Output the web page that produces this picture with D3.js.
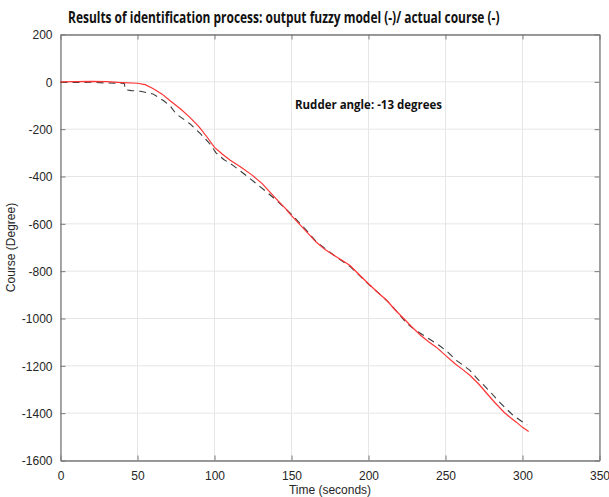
<!DOCTYPE html>
<html>
<head>
    <meta charset="utf-8">
    <script type="text/javascript" src="https://d3js.org/d3.v7.min.js"></script>
    <style>
        body { margin: 0; background: #fff; }
        svg text { font-family: "Liberation Sans", Arial, sans-serif; }
        .tick text { fill: #262626; font-size: 12px; }
        .title { font-family: "Open Sans", sans-serif !important; font-weight: bold; fill: #111; }
    </style>
    <title>Results of identification process</title>
</head>
<body>
    <svg width="609" height="497"></svg>
    <script>
        // fuzzy model output (red)
        var modelTime  = [0, 10, 20, 30, 40, 50, 55, 60, 66, 71, 78, 84, 90, 95, 100, 105, 110, 117, 124, 131, 136, 141, 146, 150, 155, 160, 166, 172, 178, 183, 188, 194, 200, 206, 212, 217, 223, 228, 234, 239, 244, 250, 256, 261, 266, 272, 277, 282, 288, 292, 296, 300, 304];
        var modelValue = [0, 1, 2, 1, -3, -6, -12, -28, -52, -79, -115, -150, -190, -232, -277, -305, -330, -360, -392, -430, -466, -501, -535, -565, -600, -635, -677, -710, -735, -755, -776, -815, -853, -890, -924, -962, -1001, -1035, -1072, -1098, -1121, -1156, -1190, -1215, -1241, -1280, -1318, -1355, -1396, -1418, -1438, -1460, -1477];

        // actual course (dashed)
        var actualTime  = [0, 10, 20, 30, 40, 41.5, 42, 46, 52, 60, 67, 71, 75, 84, 91, 97, 101, 106, 112, 117, 122, 128, 134, 141, 150, 160, 166, 178, 188, 200, 207, 214, 219, 225, 230, 236, 241, 246, 252, 257, 262, 266, 270, 275, 279, 283, 288, 294, 298, 303];
        var actualValue = [-2, -3, -2, -5, -6, -8, -33, -37, -40, -51, -80, -100, -135, -177, -220, -262, -300, -328, -353, -378, -403, -435, -466, -505, -560, -630, -675, -735, -780, -855, -895, -938, -975, -1022, -1047, -1072, -1093, -1114, -1145, -1177, -1200, -1220, -1250, -1283, -1310, -1339, -1372, -1410, -1428, -1450];

        var xTicks = [0, 50, 100, 150, 200, 250, 300, 350];
        var yTicks = [200, 0, -200, -400, -600, -800, -1000, -1200, -1400, -1600];

        var svg = d3.select("svg");
        var padLeft = 60.5, padRight = 599.5, padTop = 34.5, padBottom = 460.5;

        var x = d3.scaleLinear().domain([0, 350]).range([padLeft, padRight]);
        var y = d3.scaleLinear().domain([-1600, 200]).range([padBottom, padTop]);

        // grid
        var grid = svg.append("g").attr("stroke", "#e6e6e6").attr("stroke-width", 1);
        xTicks.forEach(function (t) {
            grid.append("line").attr("x1", x(t)).attr("x2", x(t)).attr("y1", padTop).attr("y2", padBottom);
        });
        yTicks.forEach(function (t) {
            grid.append("line").attr("x1", padLeft).attr("x2", padRight).attr("y1", y(t)).attr("y2", y(t));
        });

        var plain = function (d) { return String(d); };

        // axes, MATLAB-style with inner ticks and a box
        var xAxis = svg.append("g")
            .attr("transform", "translate(0," + padBottom + ")")
            .call(d3.axisBottom(x).tickValues(xTicks).tickFormat(plain).tickSizeInner(-5).tickSizeOuter(0).tickPadding(11));
        var xTop = svg.append("g")
            .attr("transform", "translate(0," + padTop + ")")
            .call(d3.axisTop(x).tickValues(xTicks).tickSizeInner(-5).tickSizeOuter(0).tickFormat(""));
        var yAxis = svg.append("g")
            .attr("transform", "translate(" + padLeft + ",0)")
            .call(d3.axisLeft(y).tickValues(yTicks).tickFormat(plain).tickSizeInner(-5).tickSizeOuter(0).tickPadding(8));
        var yRight = svg.append("g")
            .attr("transform", "translate(" + padRight + ",0)")
            .call(d3.axisRight(y).tickValues(yTicks).tickSizeInner(-5).tickSizeOuter(0).tickFormat(""));

        [xAxis, xTop, yAxis, yRight].forEach(function (a) {
            a.selectAll("path, line").attr("stroke", "#7a7a7a");
            a.select(".domain").attr("stroke-width", 1.3);
        });
        yAxis.selectAll(".tick text").attr("dy", "0.35em");

        var line = d3.line()
            .x(function (d) { return x(d[0]); })
            .y(function (d) { return y(d[1]); });

        svg.append("path")
            .datum(actualTime.map(function (t, i) { return [t, actualValue[i]]; }))
            .attr("fill", "none")
            .attr("stroke", "#3a3a3a")
            .attr("stroke-width", 1.1)
            .attr("stroke-dasharray", "7,5")
            .attr("d", line);

        svg.append("path")
            .datum(modelTime.map(function (t, i) { return [t, modelValue[i]]; }))
            .attr("fill", "none")
            .attr("stroke", "#ff3333")
            .attr("stroke-width", 1.2)
            .attr("d", line);

        // bold texts squeezed horizontally to the reference width (Calibri-like look)
        function boldText(str, x0, y0, size, width) {
            var t = svg.append("text")
                .attr("class", "title")
                .attr("font-size", size + "px")
                .text(str);
            var w = t.node().getComputedTextLength();
            var k = Math.min(1, width / w);
            t.attr("transform", "translate(" + x0 + "," + y0 + ") scale(" + k + ",1)");
        }
        boldText("Results of identification process: output fuzzy model (-)/ actual course (-)", 68, 23, 15.5, 432);
        boldText("Rudder angle: -13 degrees", 295, 109, 12.5, 147);

        svg.append("text")
            .attr("x", (padLeft + padRight) / 2).attr("y", 494)
            .attr("text-anchor", "middle")
            .attr("font-size", "12px")
            .attr("fill", "#262626")
            .text("Time (seconds)");

        svg.append("text")
            .attr("transform", "translate(15," + ((padTop + padBottom) / 2) + ") rotate(-90)")
            .attr("text-anchor", "middle")
            .attr("font-size", "12px")
            .attr("fill", "#262626")
            .text("Course (Degree)");
    </script>
</body>
</html>
